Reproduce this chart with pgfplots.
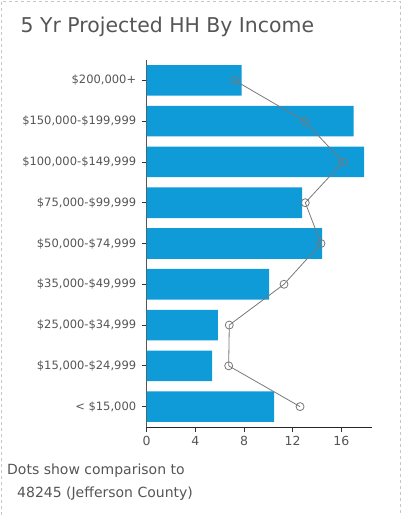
\documentclass[border=0pt]{standalone}
\usepackage{fontspec}
\setmainfont{DejaVu Sans}
\usepackage{pgfplots}
\pgfplotsset{compat=1.18}
\definecolor{barblue}{RGB}{14,155,216}
\definecolor{txtgray}{RGB}{85,85,85}
\definecolor{dotgray}{RGB}{120,120,120}

\begin{document}
\begin{tikzpicture}
  \begin{axis}[
      anchor=south west,
      scale only axis,
      width=225.6pt, height=367pt,
      xmin=0, xmax=18.55,
      ymin=-0.5, ymax=8.5,
      axis lines=left,
      x axis line style={-, black!85, line width=0.9pt},
      y axis line style={-, txtgray, line width=1.6pt},
      tick align=outside,
      major tick length=5pt,
      tick style={black!80, line width=0.8pt},
      xtick={0,4,8,12,16},
      ytick={0,1,...,8},
      yticklabels={{< \$15,000},{\$15,000-\$24,999},{\$25,000-\$34,999},{\$35,000-\$49,999},
        {\$50,000-\$74,999},{\$75,000-\$99,999},{\$100,000-\$149,999},{\$150,000-\$199,999},{\$200,000+}},
      /pgf/number format/assume math mode=true,
      xticklabel style={text=txtgray, font=\fontsize{12.5}{14}\selectfont, yshift=-1pt},
      yticklabel style={text=txtgray, font=\fontsize{11.5}{13}\selectfont, xshift=-2pt},
      clip=false,
    ]
    % share of households (%), bars
    \addplot[xbar, bar width=0.75, fill=barblue, draw=none] coordinates {
      (10.47,0) (5.37,1) (5.86,2) (10.06,3) (14.42,4) (12.77,5) (17.87,6) (17.02,7) (7.81,8)
    };
    % comparison: Jefferson County
    \addplot[dotgray, line width=0.8pt, mark=o, mark size=4pt, mark options={line width=0.8pt}] coordinates {
      (12.61,0) (6.74,1) (6.79,2) (11.29,3) (14.33,4) (13.04,5) (16.14,6) (12.99,7) (7.24,8)
    };
  \end{axis}
  \begin{scope}[x=1pt, y=1pt, shift={(-146.7pt,427pt)}]
    \useasboundingbox (0,0) rectangle (402,-515);
    \draw[gray!45, dashed] (1,-515) -- (1,-1) -- (400,-1) -- (400,-515);
    \node[anchor=base west, text=txtgray, font=\fontsize{20.4}{24}\selectfont, inner sep=0pt]
      at (20.5,-32.3) {5 Yr Projected HH By Income};
    \node[anchor=base west, text=txtgray, font=\fontsize{14}{16}\selectfont, inner sep=0pt]
      at (7,-474) {Dots show comparison to};
    \node[anchor=base west, text=txtgray, font=\fontsize{14}{16}\selectfont, inner sep=0pt]
      at (17,-497) {48245 (Jefferson County)};
  \end{scope}
\end{tikzpicture}
\end{document}
